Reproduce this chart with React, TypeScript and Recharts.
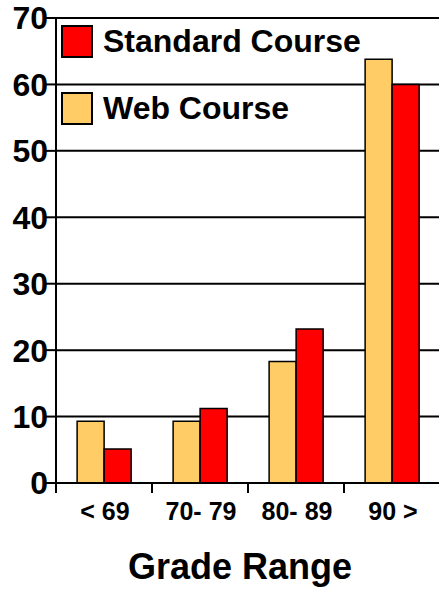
import { BarChart, Bar, XAxis, YAxis, CartesianGrid, Legend } from 'recharts';

const categories = ['< 69', '70- 79', '80- 89', '90 >'];
const webCourse = [9.3, 9.3, 18.3, 63.8];
const standardCourse = [5.1, 11.2, 23.2, 60];
const yTicks = [0, 10, 20, 30, 40, 50, 60, 70];

const WEB_COLOR = '#FFCC66';
const STD_COLOR = '#FF0000';
const FONT = '"Liberation Sans", Arial, sans-serif';

const data = categories.map((name, i) => ({
    name,
    web: webCourse[i],
    standard: standardCourse[i],
}));

const legendItems = [
    { label: 'Standard Course', color: STD_COLOR },
    { label: 'Web Course', color: WEB_COLOR },
];

const renderLegend = () => (
    <div style={{ fontFamily: FONT }}>
        {legendItems.map((item, i) => (
            <div
                key={item.label}
                style={{ display: 'flex', alignItems: 'center', height: 33, marginTop: i === 0 ? 0 : 34 }}
            >
                <div
                    style={{
                        width: 32,
                        height: 33,
                        boxSizing: 'border-box',
                        border: '2px solid #000',
                        background: item.color,
                    }}
                />
                <span style={{ marginLeft: 10, fontSize: 32, fontWeight: 'bold', color: '#000', lineHeight: '33px' }}>
                    {item.label}
                </span>
            </div>
        ))}
    </div>
);

// category label plus a tick mark on the left boundary of each band
const GradeTick = (props: any) => {
    const { x, y, payload, width, visibleTicksCount } = props;
    const half = (width || 384) / (visibleTicksCount || categories.length) / 2;
    return (
        <g>
            <line x1={x - half} y1={y} x2={x - half} y2={y + 10} stroke="#000" strokeWidth={2} />
            <text
                x={x + 1}
                y={y + 37}
                textAnchor="middle"
                fill="#000"
                fontSize={25}
                fontWeight="bold"
                fontFamily={FONT}
            >
                {payload.value}
            </text>
        </g>
    );
};

const App = () => {
    return (
        <div style={{ position: 'absolute', left: 0, top: 0, background: '#fff' }}>
            <BarChart
                width={439}
                height={591}
                data={data}
                margin={{ top: 18, right: -1, left: 0, bottom: 0 }}
                barCategoryGap="22%"
                barGap={0}
            >
                <CartesianGrid horizontal vertical={false} stroke="#000" strokeWidth={2} />
                <XAxis
                    dataKey="name"
                    height={108}
                    tickLine={false}
                    tickSize={0}
                    tickMargin={0}
                    axisLine={{ stroke: '#000', strokeWidth: 2 }}
                    tick={<GradeTick />}
                    interval={0}
                    label={{
                        value: 'Grade Range',
                        position: 'insideBottom',
                        offset: 12,
                        dx: -8,
                        fill: '#000',
                        fontSize: 36,
                        fontWeight: 'bold',
                        fontFamily: FONT,
                    }}
                />
                <YAxis
                    width={56}
                    domain={[0, 70]}
                    ticks={yTicks}
                    interval={0}
                    tickSize={10}
                    tickMargin={0}
                    axisLine={{ stroke: '#000', strokeWidth: 2 }}
                    tickLine={{ stroke: '#000', strokeWidth: 2 }}
                    tick={{ fill: '#000', fontSize: 32, fontWeight: 'bold', fontFamily: FONT, dx: 2 }}
                />
                <Legend
                    layout="horizontal"
                    verticalAlign="middle"
                    align="center"
                    content={renderLegend}
                    wrapperStyle={{ left: 61, top: 25, width: 'auto' }}
                />
                <Bar dataKey="web" name="Web Course" fill={WEB_COLOR} stroke="#000" strokeWidth={1.5} isAnimationActive={false} />
                <Bar dataKey="standard" name="Standard Course" fill={STD_COLOR} stroke="#000" strokeWidth={1.5} isAnimationActive={false} />
            </BarChart>
        </div>
    );
};

export default App;
